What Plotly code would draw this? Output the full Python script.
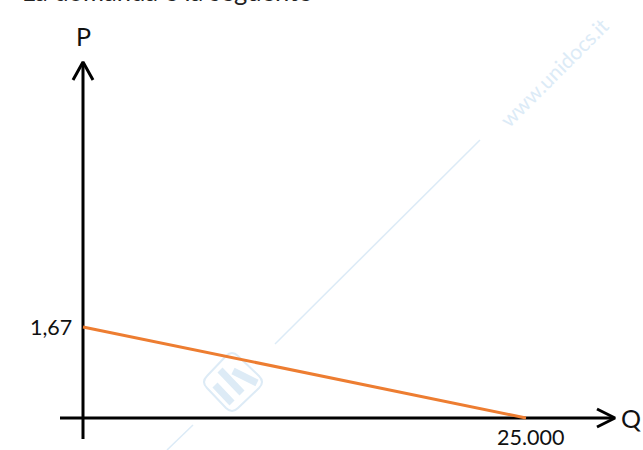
import plotly.graph_objects as go

qty = [0, 25000]
price = [1.67, 0]
x_label = "Q"
y_label = "P"
x_tick = "25.000"
y_tick = "1,67"
header = "La domanda è la seguente"
wm_text = "www.unidocs.it"
ink = "#000000"
orange = "#ED7D31"
wm = "#DCEBF7"
wm_logo = "#DDEBF6"
FONT = "Lato"

W, H = 643, 450
X0, Y0 = 83, 418
px_q = (526 - X0) / 25000
px_p = (Y0 - 327) / 1.67
xr = [-X0 / px_q, (W - X0) / px_q]
yr = [-(H - Y0) / px_p, Y0 / px_p]


def X(p):
    return (p - X0) / px_q


def Y(p):
    return (Y0 - p) / px_p


def line(pts, color, width):
    fig.add_trace(go.Scatter(x=[X(a) for a, _ in pts], y=[Y(b) for _, b in pts], mode="lines",
                             line=dict(color=color, width=width), hoverinfo="skip"))


fig = go.Figure()
# watermark
line([(275, 344), (480, 140)], wm, 1.5)
line([(167, 450), (193, 425)], wm, 1.5)
line([(215, 385), (232, 403)], wm_logo, 7)
line([(220, 370), (242, 393)], wm_logo, 7)
line([(233, 371), (257, 383)], wm_logo, 7)

# axes with open arrow heads
line([(60, Y0), (614, Y0)], ink, 3)
line([(X0, 439), (X0, 63)], ink, 3)
line([(597, 409), (615, Y0), (597, 427)], ink, 3)
line([(73, 80), (X0, 62), (93, 80)], ink, 3)

# demand line
fig.add_trace(go.Scatter(x=qty, y=price, mode="lines",
                         line=dict(color=orange, width=3), hoverinfo="skip"))

ann = []


def label(text, px, py, size, color="#111111", angle=0):
    ann.append(dict(x=X(px), y=Y(py), xref="x", yref="y", text=text, showarrow=False,
                    font=dict(family=FONT, size=size, color=color), textangle=angle,
                    xanchor="center", yanchor="middle"))


label(y_label, 83, 36, 25)
label(x_label, 631, 418, 25)
label(x_tick, 530, 437, 21.5)
label(y_tick, 51, 327, 21.5)
label(wm_text, 553, 72, 21, color=wm, angle=-45)
ann.append(dict(x=20 / W, y=1, xref="paper", yref="paper", yshift=-8, text=header, showarrow=False,
                font=dict(family=FONT, size=25.5, color="#222222"), xanchor="left", yanchor="bottom"))

diamond = "M {} {} Q {} {} {} {} L {} {} Q {} {} {} {} L {} {} Q {} {} {} {} L {} {} Q {} {} {} {} Z".format(
    *[v for a, b in [(226, 356), (232, 350), (238, 356), (259, 376), (265, 382), (259, 388),
                     (238, 408), (232, 414), (226, 408), (207, 388), (201, 382), (207, 376)]
      for v in (X(a), Y(b))])

fig.update_layout(
    width=W, height=H, margin=dict(l=0, r=0, t=0, b=0),
    paper_bgcolor="white", plot_bgcolor="white", showlegend=False,
    xaxis=dict(visible=False, range=xr, fixedrange=True),
    yaxis=dict(visible=False, range=yr, fixedrange=True),
    annotations=ann,
    shapes=[dict(type="path", xref="x", yref="y", path=diamond, layer="below",
                 line=dict(color=wm_logo, width=2), fillcolor="rgba(0,0,0,0)")],
)
fig.write_html("out.html", config={"displayModeBar": False},
               post_script="document.body.style.margin='0';document.documentElement.style.overflow='hidden';")
